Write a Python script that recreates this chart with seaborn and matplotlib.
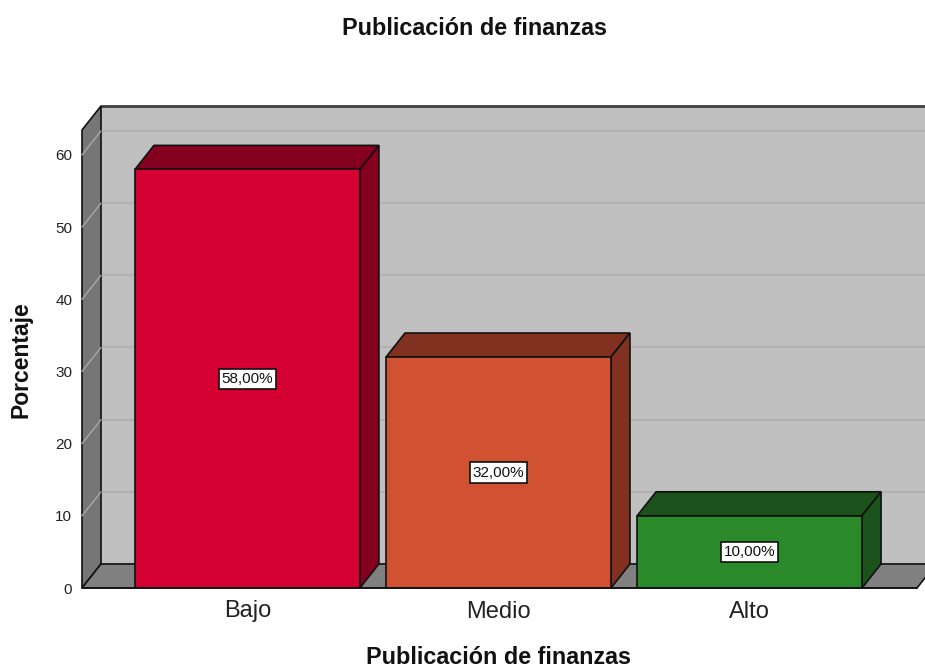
import matplotlib
matplotlib.use("Agg")
import matplotlib.pyplot as plt
from matplotlib.patches import Polygon
import seaborn as sns
import pandas as pd

categories = ["Bajo", "Medio", "Alto"]
percentages = [58.0, 32.0, 10.0]
value_labels = ["58,00%", "32,00%", "10,00%"]
y_ticks = [0, 10, 20, 30, 40, 50, 60]
front_colors = ["#D50032", "#D05232", "#2A8A2A"]
shade_colors = ["#85001F", "#82301F", "#1B521B"]
title = "Publicación de finanzas"
x_title = "Publicación de finanzas"
y_title = "Porcentaje"

sns.set_theme(style="white")
plt.rcParams["font.family"] = ["Liberation Sans", "DejaVu Sans"]

df = pd.DataFrame({"cat": categories, "pct": percentages})

fig = plt.figure(figsize=(9.25, 6.69), dpi=100)
ax = fig.add_axes([82 / 925, 81 / 669, 835 / 925, 458 / 669])

XMIN, XMAX = -0.659, 2.667
YMAX = 63.46
DX, DY = 0.0757, 3.33
BW = 0.896

# front faces
sns.barplot(data=df, x="cat", y="pct", hue="cat", palette=front_colors, width=BW,
            edgecolor="#111111", linewidth=1.2, legend=False, ax=ax, zorder=5, saturation=1)

ax.set_xlim(XMIN, XMAX)
ax.set_ylim(0, YMAX)

# back wall
ax.add_patch(Polygon([(XMIN + DX, DY), (XMAX + DX, DY), (XMAX + DX, YMAX + DY), (XMIN + DX, YMAX + DY)],
                     closed=True, facecolor="#C0C0C0", edgecolor="none", clip_on=False, zorder=0))
ax.plot([XMIN + DX, XMAX + DX], [YMAX + DY, YMAX + DY], color="#404040", lw=2, clip_on=False, zorder=1)
for t in y_ticks:
    ax.plot([XMIN + DX, XMAX + DX], [t + DY, t + DY], color="#B2B2B2", lw=1.6, clip_on=False, zorder=1)
# left wall
ax.add_patch(Polygon([(XMIN, 0), (XMIN + DX, DY), (XMIN + DX, YMAX + DY), (XMIN, YMAX)],
                     closed=True, facecolor="#767676", edgecolor="#111111", lw=1.2, clip_on=False, zorder=2))
for t in y_ticks[1:]:
    ax.plot([XMIN, XMIN + DX], [t, t + DY], color="#A8A8A8", lw=1, clip_on=False, zorder=2.5)
# floor
ax.add_patch(Polygon([(XMIN, 0), (XMAX, 0), (XMAX + DX, DY), (XMIN + DX, DY)],
                     closed=True, facecolor="#808080", edgecolor="#111111", lw=1.2, clip_on=False, zorder=2))

for i, v in enumerate(percentages):
    x0, x1 = i - BW / 2, i + BW / 2
    ax.add_patch(Polygon([(x0, v), (x1, v), (x1 + DX, v + DY), (x0 + DX, v + DY)], closed=True,
                         facecolor=shade_colors[i], edgecolor="#111111", lw=1.2, zorder=4, clip_on=False))
    ax.add_patch(Polygon([(x1, 0), (x1 + DX, DY), (x1 + DX, v + DY), (x1, v)], closed=True,
                         facecolor=shade_colors[i], edgecolor="#111111", lw=1.2, zorder=4, clip_on=False))
    ax.text(i, v / 2, value_labels[i], ha="center", va="center", fontsize=11, color="#111111", zorder=6,
            bbox=dict(boxstyle="square,pad=0.2", facecolor="white", edgecolor="#111111", lw=1.2))

ax.plot([XMIN, XMAX], [0, 0], color="#111111", lw=1.2, clip_on=False, zorder=6)

for s in ax.spines.values():
    s.set_visible(False)
ax.set_yticks(y_ticks)
ax.set_yticklabels([str(t) for t in y_ticks], fontsize=11, color="#222222")
ax.tick_params(axis="y", length=0, pad=7)
ax.tick_params(axis="x", length=0, pad=9, labelsize=17, labelcolor="#222222")
ax.set_xlabel(x_title, fontsize=16.8, fontweight="bold", color="#111111")
ax.xaxis.set_label_coords(0.4988, -0.127)
ax.set_ylabel(y_title, fontsize=16.5, fontweight="bold", color="#111111")
ax.yaxis.set_label_coords(-0.0587, 0.498)
ax.patch.set_alpha(0)
fig.suptitle(title, x=475 / 925, y=1 - 35 / 669, va="baseline", fontsize=16.8, fontweight="bold", color="#111111")

fig.savefig("out.png", dpi=100, facecolor="white")
